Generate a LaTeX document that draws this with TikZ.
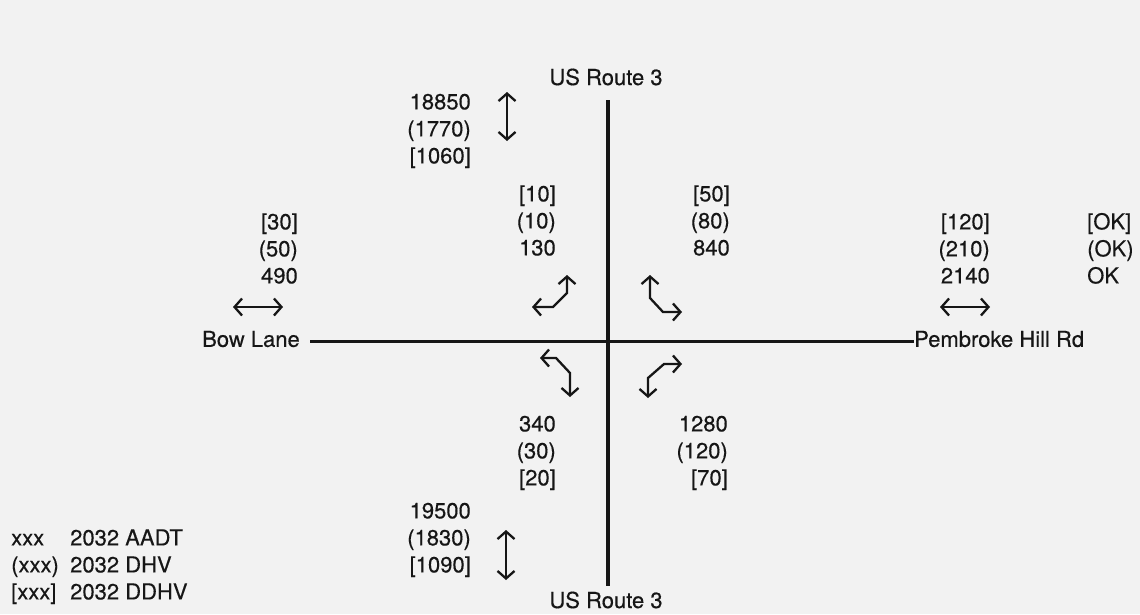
\documentclass[tikz,border=0pt]{standalone}
\usepackage{fontspec}
\setmainfont{TeX Gyre Heros}
\newfontfamily\labelfont{TeX Gyre Heros}[FakeBold=0.35]
\usetikzlibrary{arrows.meta}
\definecolor{paper}{HTML}{F2F2F2}
\definecolor{ink}{HTML}{161616}
\begin{document}
\begin{tikzpicture}[x=1pt,y=-1pt,
  lbl/.style={inner sep=0pt, text=ink, font=\labelfont\fontsize{22}{27}\selectfont},
  stackR/.style={lbl, align=right, anchor=east},
  stackL/.style={lbl, align=left, anchor=west},
  road/.style={draw=ink, line width=3.5pt},
  flow/.style={draw=ink, line width=2.3pt,
    {Straight Barb[length=7.5pt,width=17pt]}-{Straight Barb[length=7.5pt,width=17pt]}}]
\fill[paper] (0,0) rectangle (1140,614);
\useasboundingbox (0,0) rectangle (1140,614);

% road names
\node[lbl] (rtN) at (606,77) {US Route 3};
\node[lbl] (rtS) at (606,600) {US Route 3};
\node[lbl, anchor=east] (bow) at (300,339) {Bow Lane};
\node[lbl, anchor=west] (pem) at (914,339) {Pembroke Hill Rd};

% the two roads
\coordinate (nEnd) at (608,100);
\coordinate (sEnd) at (608,586);
\coordinate (wEnd) at (310,341);
\coordinate (eEnd) at (914,341);
\draw[road] (nEnd) -- (sEnd);
\draw[road, line width=3pt] (wEnd) -- (eEnd);

% volumes
\node[stackR] (nAADT) at (471,131) {\strut18850\\(1770)\\{[}1060]\strut};
\node[stackR] (sbL) at (556,223) {\strut{[}10]\\(10)\\130\strut};
\node[stackR] (sbT) at (730,223) {\strut{[}50]\\(80)\\840\strut};
\node[stackR] (ebB) at (298,251) {\strut{[}30]\\(50)\\490\strut};
\node[stackR] (wbB) at (990,251) {\strut{[}120]\\(210)\\2140\strut};
\node[stackL] (lvl) at (1087,251) {\strut{[}OK]\\(OK)\\OK\strut};
\node[stackR] (nbL) at (556,453) {\strut340\\(30)\\{[}20]\strut};
\node[stackR] (nbR) at (728,453) {\strut1280\\(120)\\{[}70]\strut};
\node[stackR] (sAADT) at (471,540) {\strut19500\\(1830)\\{[}1090]\strut};

% key
\node[stackL] (key) at (11,567) {\strut xxx\\(xxx)\\{[}xxx]\strut};
\node[stackL] (keyT) at (70,567) {\strut2032 AADT\\2032 DHV\\2032 DDHV\strut};

% two-way arrows
\draw[flow] (507,92) -- (507,141);
\draw[flow] (506,530) -- (506,580);
\draw[flow] (233,307) -- (283,307);
\draw[flow] (940,307) -- (990,307);

% turning movements
\draw[flow] (532,307) -- (553,307) -- (567,293) -- (567,275);
\draw[flow] (650,275) -- (650,298) -- (663,312) -- (682,312);
\draw[flow] (540,358) -- (556,358) -- (570,373) -- (570,397);
\draw[flow] (682,364) -- (664,364) -- (648,378) -- (648,398);
\end{tikzpicture}
\end{document}
